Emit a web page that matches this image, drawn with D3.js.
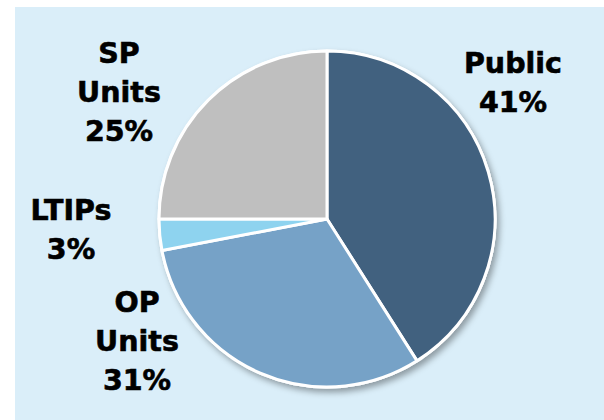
<!DOCTYPE html>
<html>
<head>
<meta charset="utf-8">
<script src="https://cdn.jsdelivr.net/npm/d3@7"></script>
<style>
  html, body { margin: 0; padding: 0; background: #fff; }
  svg { display: block; }
</style>
</head>
<body>
<div id="chart"></div>
<script>
// data
const categories = ["Public", "OP Units", "LTIPs", "SP Units"];
const shares = [41, 31, 3, 25];
const colors = ["#41617f", "#76a2c7", "#8ed3ef", "#bfbfbf"];

// label layout: center x, first baseline
const labelLayout = {
  "Public":   { x: 513, y: 73, lines: ["Public"] },
  "OP Units": { x: 137, y: 312, lines: ["OP", "Units"] },
  "LTIPs":    { x: 71, y: 220, lines: ["LTIPs"] },
  "SP Units": { x: 119, y: 63, lines: ["SP", "Units"] }
};

const width = 604, height = 420;
const cx = 327, cy = 219, radius = 168;

const svg = d3.select("#chart").append("svg")
  .attr("width", width)
  .attr("height", height);

const defs = svg.append("defs");
const shadow = defs.append("filter").attr("id", "shadow")
  .attr("x", "-10%").attr("y", "-10%").attr("width", "125%").attr("height", "125%");
shadow.append("feDropShadow")
  .attr("dx", 3).attr("dy", 4).attr("stdDeviation", 3)
  .attr("flood-color", "#000").attr("flood-opacity", 0.35);

// panel background
svg.append("rect")
  .attr("x", 15).attr("y", 7)
  .attr("width", width - 15).attr("height", height - 7)
  .attr("fill", "#daeef9");

const data = categories.map((c, i) => ({ name: c, value: shares[i], color: colors[i] }));

const pie = d3.pie().sort(null).value(d => d.value);
const arc = d3.arc().innerRadius(0).outerRadius(radius);

const g = svg.append("g").attr("transform", `translate(${cx},${cy})`);

g.append("circle")
  .attr("r", radius + 1.5)
  .attr("fill", "#fff")
  .attr("filter", "url(#shadow)");

g.selectAll("path")
  .data(pie(data))
  .join("path")
  .attr("d", arc)
  .attr("fill", d => d.data.color)
  .attr("stroke", "#fff")
  .attr("stroke-width", 3)
  .attr("stroke-linejoin", "round");

// labels
const lineGap = 39;
data.forEach(d => {
  const lay = labelLayout[d.name];
  const lines = lay.lines.concat([d.value + "%"]);
  const t = svg.append("text")
    .attr("text-anchor", "middle")
    .attr("font-family", "'DejaVu Sans', Verdana, sans-serif")
    .attr("font-weight", "bold")
    .attr("font-size", 28.5)
    .attr("fill", "#000")
    .attr("stroke", "#000")
    .attr("stroke-width", 0.6);
  lines.forEach((s, i) => {
    t.append("tspan")
      .attr("x", lay.x)
      .attr("y", lay.y + i * lineGap)
      .text(s);
  });
});
</script>
</body>
</html>
